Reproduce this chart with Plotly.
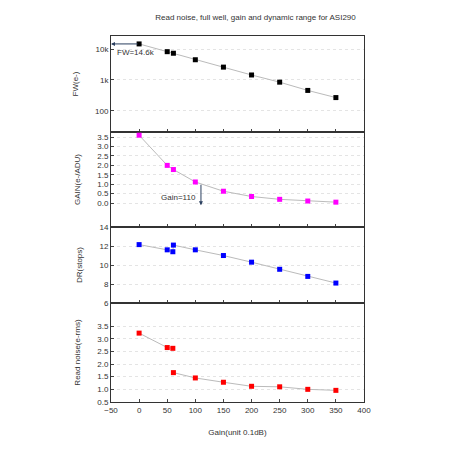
import plotly.graph_objects as go
from plotly.subplots import make_subplots

gain_x = [0, 50, 61, 100, 150, 200, 250, 300, 350]
fw = [14600, 8200, 7300, 4500, 2600, 1450, 850, 460, 270]
gain_e = [3.6, 2.0, 1.78, 1.12, 0.63, 0.35, 0.2, 0.11, 0.05]
dr_x = [0, 50, 60, 61, 100, 150, 200, 250, 300, 350]
dr = [12.15, 11.6, 11.4, 12.1, 11.6, 11.0, 10.3, 9.55, 8.8, 8.1]
rn_x = [0, 50, 60, None, 61, 100, 150, 200, 250, 300, 350]
rn = [3.22, 2.65, 2.62, None, 1.66, 1.45, 1.28, 1.12, 1.1, 1.0, 0.96]

fig = make_subplots(rows=4, cols=1, shared_xaxes=True, vertical_spacing=0)

def add(x, y, row, color):
    fig.add_trace(go.Scatter(x=x, y=y, mode="lines+markers", connectgaps=False,
                             line=dict(color="#bbbbbb", width=1),
                             marker=dict(symbol="square", size=5, color=color)), row=row, col=1)

add(gain_x, fw, 1, "black")
add(gain_x, gain_e, 2, "#ff00ff")
add(dr_x, dr, 3, "#0000ff")
add(rn_x, rn, 4, "#ff0000")

font = dict(family="Liberation Sans, Arial", size=8, color="#333")
axis = dict(showline=True, linecolor="#333", mirror=True, ticks="inside", ticklen=3,
            tickfont=font, zeroline=False)

doms = [(0.7377, 1.0), (0.478, 0.7377), (0.2705, 0.478), (0.0, 0.2705)]
for i in range(4):
    fig.update_xaxes(range=[-50, 400], dtick=50, domain=[0, 1], showgrid=False, **axis, row=i + 1, col=1)
    fig.update_yaxes(domain=doms[i], showgrid=True, gridcolor="#e4e4e4", griddash="dot", **axis,
                     row=i + 1, col=1)
fig.update_xaxes(title=dict(text="Gain(unit 0.1dB)", font=font), row=4, col=1)

fig.update_yaxes(type="log", range=[1.32, 4.42], tickvals=[100, 1000, 10000], ticktext=["100", "1k", "10k"],
                 title=dict(text="FW(e-)", font=font), row=1, col=1)
fig.update_yaxes(range=[-1.27, 3.77], tickvals=[0, 0.5, 1, 1.5, 2, 2.5, 3, 3.5], tickformat=".1f",
                 title=dict(text="GAIN(e-/ADU)", font=font), row=2, col=1)
fig.update_yaxes(range=[6, 14], dtick=2, title=dict(text="DR(stops)", font=font), row=3, col=1)
fig.update_yaxes(range=[0.5, 4.41], tickvals=[0.5, 1, 1.5, 2, 2.5, 3, 3.5], tickformat=".1f",
                 title=dict(text="Read noise(e-rms)", font=font), row=4, col=1)

fig.add_annotation(x=-50, y=4.164, ax=0, ay=4.164, xref="x", yref="y", axref="x", ayref="y",
                   showarrow=True, arrowhead=2, arrowsize=0.8, arrowwidth=1, text="")
fig.add_annotation(x=-5, y=3.9, xref="x", yref="y", text="FW=14.6k", showarrow=False, font=font)
fig.add_annotation(x=110, y=-0.12, ax=110, ay=1.05, xref="x2", yref="y2", axref="x2", ayref="y2",
                   showarrow=True, arrowhead=2, arrowsize=0.8, arrowwidth=1, text="")
fig.add_annotation(x=70, y=0.28, xref="x2", yref="y2", text="Gain=110", showarrow=False, font=font)

fig.update_layout(width=450, height=450, showlegend=False, plot_bgcolor="white", paper_bgcolor="white",
                  margin=dict(l=103, r=94, t=28, b=56),
                  title=dict(text="Read noise, full well, gain and dynamic range for ASI290", x=0.55, y=0.985,
                             font=dict(family="Liberation Sans, Arial", size=8, color="#333")))
fig.write_html("out.html")
